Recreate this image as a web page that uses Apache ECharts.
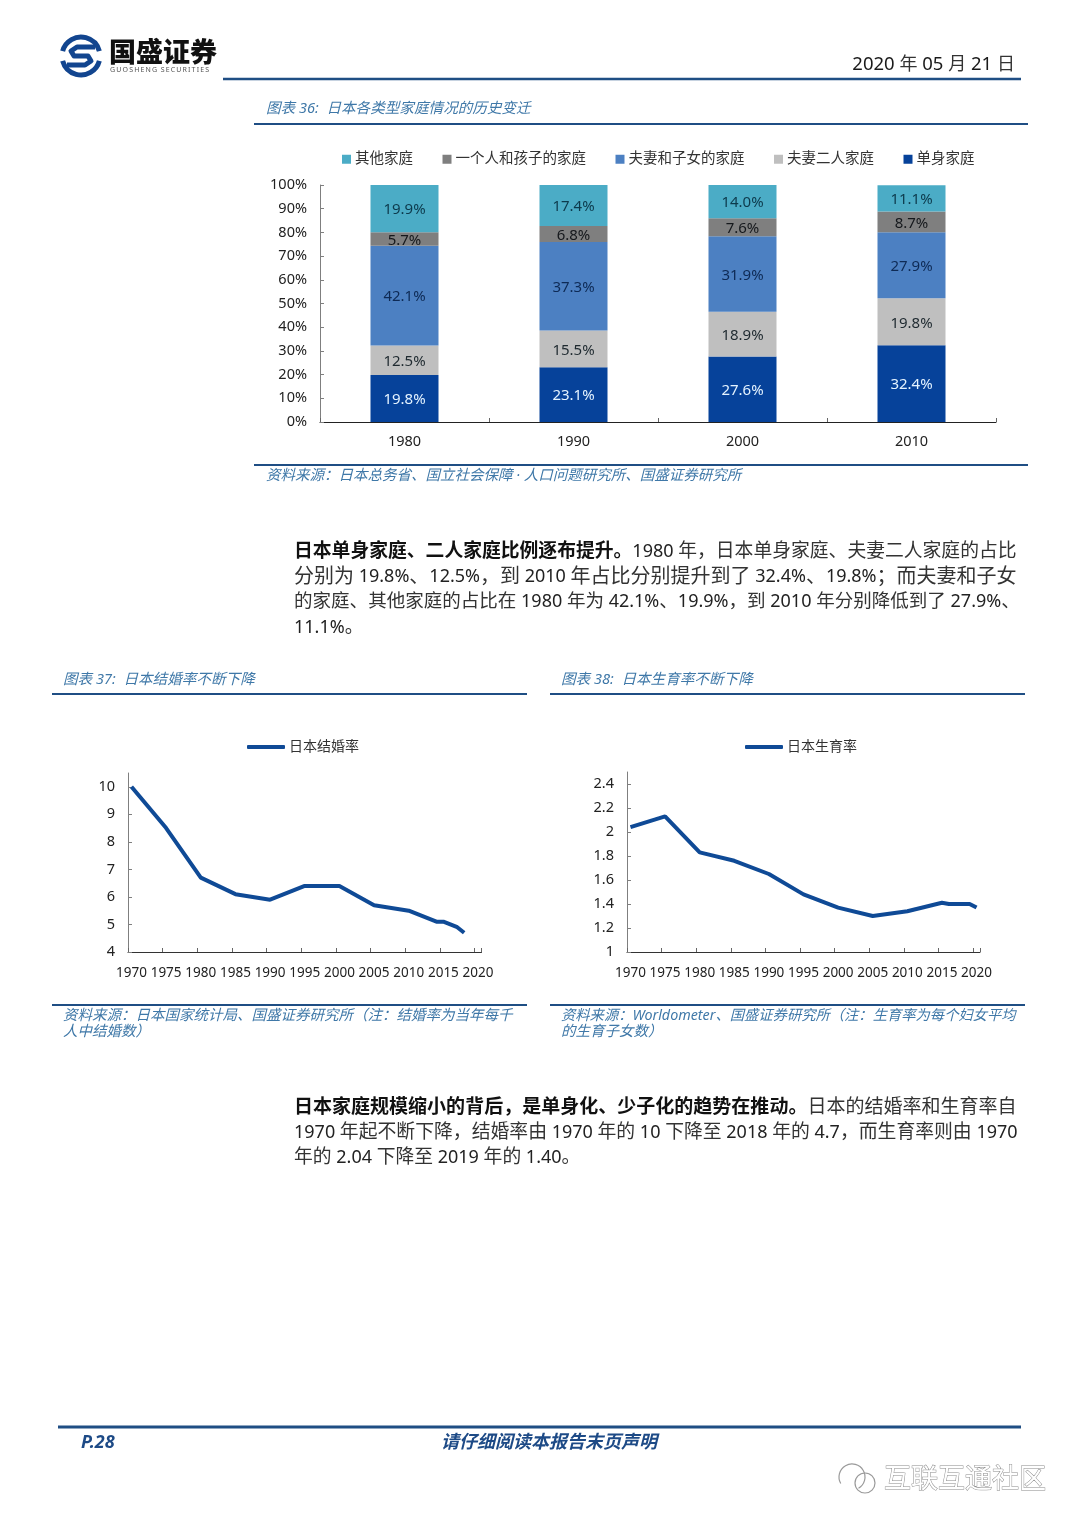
<!DOCTYPE html>
<html>
<head>
<meta charset="utf-8">
<style>html,body{margin:0;padding:0;background:#fff}#c{width:1080px;height:1526px}</style>
<script src="https://cdn.jsdelivr.net/npm/echarts@6/dist/echarts.min.js"></script>
</head>
<body>
<div id="c"></div>
<script>
// ---- data ----
const barCategories = ['1980', '1990', '2000', '2010'];
const singleHome = [19.8, 23.1, 27.6, 32.4];
const coupleOnly = [12.5, 15.5, 18.9, 19.8];
const coupleKids = [42.1, 37.3, 31.9, 27.9];
const oneParent = [5.7, 6.8, 7.6, 8.7];
const otherHome = [19.9, 17.4, 14.0, 11.1];

const marriageYears = [1970, 1975, 1980, 1985, 1990, 1995, 2000, 2005, 2010, 2014, 2015, 2016, 2017, 2018];
const marriageRates = [10, 8.5, 6.7, 6.1, 5.9, 6.4, 6.4, 5.7, 5.5, 5.1, 5.1, 5.0, 4.9, 4.7];
const marriageTicks = [4, 5, 6, 7, 8, 9, 10];

const birthYears = [1970, 1975, 1980, 1985, 1990, 1995, 2000, 2005, 2010, 2015, 2016, 2019, 2020];
const birthRates = [2.04, 2.13, 1.83, 1.76, 1.65, 1.48, 1.37, 1.30, 1.34, 1.41, 1.40, 1.40, 1.37];
const birthTicks = [1, 1.2, 1.4, 1.6, 1.8, 2, 2.2, 2.4];

const firstYear = 1970, lastYear = 2020;
const yearLabels = [];
for (let y = firstYear; y <= lastYear; y++) yearLabels.push(String(y));
const onYears = (years, vals) => yearLabels.map(l => {
  const i = years.indexOf(+l);
  return i < 0 ? null : vals[i];
});

// ---- style ----
const SANS = '"Noto Sans","Noto Sans CJK SC",sans-serif';
const BLUE = '#1f4e84', LINEBLUE = '#0f4a96', CAP = '#3f78a8', TXT = '#222';

const chart = echarts.init(document.getElementById('c'), null, {renderer: 'canvas'});

const T = (x, y, text, o = {}) => ({
  type: 'text', x, y: y + 2, silent: true,
  style: {
    text, fill: o.fill || TXT, font: `${o.italic ? 'italic ' : ''}${o.bold ? o.bold + ' ' : ''}${o.size || 14}px ${SANS}`,
    textAlign: o.align || 'left', textVerticalAlign: 'middle',
    stroke: o.stroke, lineWidth: o.lw, rich: o.rich
  }
});
const L = (x1, x2, y, w) => ({
  type: 'line', silent: true, shape: {x1, y1: y, x2, y2: y},
  style: {stroke: BLUE, lineWidth: w}
});
const A = (cx, cy, r, s, e, lw, col) => ({
  type: 'arc', silent: true,
  shape: {cx, cy, r, startAngle: s * Math.PI / 180, endAngle: e * Math.PI / 180, clockwise: true},
  style: {stroke: col, lineWidth: lw, fill: 'none'}
});
// body paragraph line: bold run + normal run; CJK size fitted so that the line fills the measure
const mctx = document.createElement('canvas').getContext('2d');
const LATIN_SIZE = 18;
const runsOf = s => s.match(/[\x00-\x7f]+|[^\x00-\x7f]+/g) || [];
const P = (y, bold, normal, target) => {
  const all = runsOf(bold + normal);
  let latinW = 0, cjk = 0;
  mctx.font = `400 ${LATIN_SIZE}px "Noto Sans"`;
  all.forEach(r => { if (/^[\x00-\x7f]/.test(r)) latinW += mctx.measureText(r).width; else cjk += r.length; });
  const cs = target ? (target - latinW) / cjk : 18.8;
  const mark = s => runsOf(s).map(r => `{${/^[\x00-\x7f]/.test(r) ? 'n' : 'c'}|${r}}`).join('');
  return {
    type: 'text', x: 294, y: y + 2, silent: true,
    style: {
      text: (bold ? runsOf(bold).map(r => `{b|${r}}`).join('') : '') + mark(normal),
      textVerticalAlign: 'middle',
      rich: {
        b: {font: `700 ${cs}px ${SANS}`, fill: '#111'},
        c: {font: `400 ${cs}px ${SANS}`, fill: '#333'},
        n: {font: `400 ${LATIN_SIZE}px ${SANS}`, fill: '#222'}
      }
    }
  };
};

const LOGO = '#12458f';
const graphics = [
  // logo
  A(81, 56, 19, 195, 345, 5, LOGO),
  A(81, 56, 19, 15, 165, 5, LOGO),
  {type: 'polyline', silent: true, shape: {points: [[95, 47], [77, 47], [71, 51], [74, 56], [88, 56], [91, 61], [85, 65], [67, 65]]},
   style: {stroke: LOGO, lineWidth: 5, fill: 'none', lineJoin: 'round'}},
  T(109, 52, '国盛证券', {size: 27, bold: 900, fill: '#111'}),
  T(110, 68, 'GUOSHENG\u2009SECURITIES'.split('').join('\u2009'), {size: 7, fill: '#555'}),
  // header
  T(1015, 63, '{d|2020 }{c|年}{d| 05 }{c|月}{d| 21 }{c|日}', {align: 'right', rich: {
    d: {font: `18.5px ${SANS}`, fill: '#1a1a1a'}, c: {font: `18px ${SANS}`, fill: '#333'}
  }}),
  L(223, 1021, 79, 2.5),
  // figure 36
  T(266, 107, '图表 36:  日本各类型家庭情况的历史变迁', {size: 14.6, italic: 1, fill: CAP}),
  L(254, 1028, 124, 2),
  L(254, 1028, 465, 2),
  T(266, 474, '资料来源：日本总务省、国立社会保障 · 人口问题研究所、国盛证券研究所', {size: 14.5, italic: 1, fill: CAP}),
  // body 1
  P(550, '日本单身家庭、二人家庭比例逐布提升。', '1980 年，日本单身家庭、夫妻二人家庭的占比', 723),
  P(575, '', '分别为 19.8%、12.5%，到 2010 年占比分别提升到了 32.4%、19.8%；而夫妻和子女', 723),
  P(600, '', '的家庭、其他家庭的占比在 1980 年为 42.1%、19.9%，到 2010 年分别降低到了 27.9%、', 726),
  P(626, '', '11.1%。'),
  // figures 37 / 38
  T(63, 678, '图表 37:  日本结婚率不断下降', {size: 14.6, italic: 1, fill: CAP}),
  T(561, 678, '图表 38:  日本生育率不断下降', {size: 14.6, italic: 1, fill: CAP}),
  L(52, 527, 694, 2), L(550, 1025, 694, 2),
  L(52, 527, 1005, 2), L(550, 1025, 1005, 2),
  T(63, 1014, '资料来源：日本国家统计局、国盛证券研究所（注：结婚率为当年每千', {size: 14.5, italic: 1, fill: CAP}),
  T(63, 1030, '人中结婚数）', {size: 14.5, italic: 1, fill: CAP}),
  T(561, 1014, '资料来源：Worldometer、国盛证券研究所（注：生育率为每个妇女平均', {size: 14.3, italic: 1, fill: CAP}),
  T(561, 1030, '的生育子女数）', {size: 14.5, italic: 1, fill: CAP}),
  // body 2
  P(1106, '日本家庭规模缩小的背后，是单身化、少子化的趋势在推动。', '日本的结婚率和生育率自', 723),
  P(1131, '', '1970 年起不断下降，结婚率由 1970 年的 10 下降至 2018 年的 4.7，而生育率则由 1970', 724),
  P(1156, '', '年的 2.04 下降至 2019 年的 1.40。'),
  // footer
  L(58, 1021, 1427, 3),
  T(81, 1441, 'P.28', {size: 18, bold: 700, italic: 1, fill: '#1d4a86'}),
  T(441, 1441, '请仔细阅读本报告末页声明', {size: 18, bold: 700, italic: 1, fill: '#1d4a86'}),
  // watermark
  A(852, 1477, 13, 150, 60, 1.2, '#9a9a9a'),
  A(865, 1483, 10, 0, 360, 1.2, '#9a9a9a'),
  T(884, 1478, '互联互通社区', {size: 27, fill: '#ffffff', stroke: '#8c8c8c', lw: 1})
];

const yAxisBase = {
  type: 'value', axisLine: {show: true, lineStyle: {color: '#7f7f7f', width: 1}},
  axisTick: {show: true, inside: true, length: 4, lineStyle: {color: '#7f7f7f'}},
  splitLine: {show: false}
};
const labelStyle = {color: '#222', fontFamily: SANS, fontSize: 14.5};
const yLabel = {...labelStyle, margin: 13, padding: [3, 0, 0, 0]};
const lineX = (grid) => ({
  type: 'category', gridIndex: grid, data: yearLabels, boundaryGap: true,
  axisLine: {show: true, lineStyle: {color: '#333', width: 1}},
  axisTick: {show: true, inside: true, length: 4, interval: 4, lineStyle: {color: '#666'}},
  axisLabel: {...labelStyle, fontSize: 13.5, interval: 4, margin: 14, hideOverlap: false}
});

const barSeries = (name, data, color, labelColor) => ({
  name, type: 'bar', stack: 'home', xAxisIndex: 0, yAxisIndex: 0, data, barWidth: 68,
  itemStyle: {color},
  label: {show: true, position: 'inside', offset: [0, 1.5], color: labelColor, fontFamily: SANS, fontSize: 15,
    formatter: p => p.value.toFixed(1) + '%'}
});
const lineSeries = (name, data, idx) => ({
  name, type: 'line', xAxisIndex: idx, yAxisIndex: idx, data, connectNulls: true,
  symbol: 'none', smooth: false, lineStyle: {color: LINEBLUE, width: 4}, itemStyle: {color: LINEBLUE}
});
const legendLine = (name, left) => ({
  data: [name], left, top: 740, padding: 0, icon: 'roundRect', itemWidth: 38, itemHeight: 4, itemGap: 0,
  textStyle: {fontFamily: SANS, fontSize: 14, color: '#333', padding: [0, 0, 0, -1]},
  selectedMode: false
});

chart.setOption({
  animation: false,
  backgroundColor: '#fff',
  grid: [
    {left: 320, top: 185, width: 676, height: 237},
    {left: 128, top: 773, width: 353.5, height: 179},
    {left: 627, top: 772, width: 353, height: 180}
  ],
  legend: [
    {data: ['其他家庭', '一个人和孩子的家庭', '夫妻和子女的家庭', '夫妻二人家庭', '单身家庭'],
     left: 342, top: 152, padding: 0, icon: 'rect', itemWidth: 9, itemHeight: 9, itemGap: 29.5,
     textStyle: {fontFamily: SANS, fontSize: 14.5, color: '#333', padding: [0, 0, 0, -1]}, selectedMode: false},
    legendLine('日本结婚率', 247),
    legendLine('日本生育率', 745)
  ],
  xAxis: [
    {type: 'category', gridIndex: 0, data: barCategories,
     axisLine: {show: true, lineStyle: {color: '#222', width: 1}},
     axisTick: {show: true, inside: true, length: 4, lineStyle: {color: '#666'}},
     axisLabel: {...labelStyle, margin: 13}},
    lineX(1), lineX(2)
  ],
  yAxis: [
    {...yAxisBase, gridIndex: 0, min: 0, max: 100, interval: 10,
     axisLabel: {...yLabel, formatter: '{value}%'}},
    {...yAxisBase, gridIndex: 1, min: 4, max: 10.5, interval: 1,
     axisTick: {...yAxisBase.axisTick, customValues: marriageTicks},
     axisLabel: {...yLabel, customValues: marriageTicks}},
    {...yAxisBase, gridIndex: 2, min: 1, max: 2.5, interval: 0.5,
     axisTick: {...yAxisBase.axisTick, customValues: birthTicks},
     axisLabel: {...yLabel, customValues: birthTicks}}
  ],
  series: [
    barSeries('单身家庭', singleHome, '#06429a', '#e4f3ff'),
    barSeries('夫妻二人家庭', coupleOnly, '#bfbfbf', '#1f2a30'),
    barSeries('夫妻和子女的家庭', coupleKids, '#4c80c2', '#0e2a55'),
    barSeries('一个人和孩子的家庭', oneParent, '#7f7f7f', '#15181c'),
    barSeries('其他家庭', otherHome, '#4bacc6', '#0d3a4c'),
    lineSeries('日本结婚率', onYears(marriageYears, marriageRates), 1),
    lineSeries('日本生育率', onYears(birthYears, birthRates), 2)
  ],
  graphic: graphics
});
</script>
</body>
</html>
